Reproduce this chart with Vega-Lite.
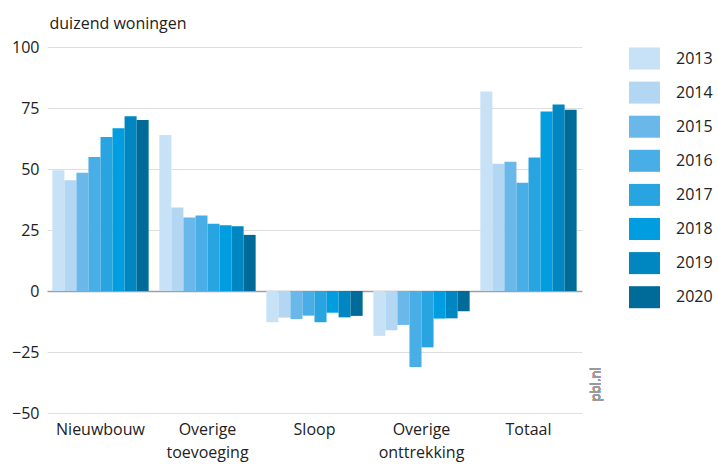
{
  "$schema": "https://vega.github.io/schema/vega-lite/v6.json",
  "width": 535,
  "height": 366,
  "autosize": {"type": "none"},
  "padding": {"left": 47, "top": 47, "right": 136, "bottom": 51},
  "background": "white",
  "config": {
    "font": "Open Sans",
    "view": {"stroke": null},
    "axis": {"labelFont": "Open Sans", "titleFont": "Open Sans", "labelColor": "#222222", "titleColor": "#222222"}
  },
  "data": {
    "values": [
      {"categorie": "Nieuwbouw", "jaar": "2013", "waarde": 49.5},
      {"categorie": "Nieuwbouw", "jaar": "2014", "waarde": 45.4},
      {"categorie": "Nieuwbouw", "jaar": "2015", "waarde": 48.5},
      {"categorie": "Nieuwbouw", "jaar": "2016", "waarde": 54.9},
      {"categorie": "Nieuwbouw", "jaar": "2017", "waarde": 63.1},
      {"categorie": "Nieuwbouw", "jaar": "2018", "waarde": 66.7},
      {"categorie": "Nieuwbouw", "jaar": "2019", "waarde": 71.6},
      {"categorie": "Nieuwbouw", "jaar": "2020", "waarde": 70.1},
      {"categorie": "Overige toevoeging", "jaar": "2013", "waarde": 63.9},
      {"categorie": "Overige toevoeging", "jaar": "2014", "waarde": 34.2},
      {"categorie": "Overige toevoeging", "jaar": "2015", "waarde": 30.1},
      {"categorie": "Overige toevoeging", "jaar": "2016", "waarde": 30.9},
      {"categorie": "Overige toevoeging", "jaar": "2017", "waarde": 27.6},
      {"categorie": "Overige toevoeging", "jaar": "2018", "waarde": 26.9},
      {"categorie": "Overige toevoeging", "jaar": "2019", "waarde": 26.5},
      {"categorie": "Overige toevoeging", "jaar": "2020", "waarde": 23.0},
      {"categorie": "Sloop", "jaar": "2013", "waarde": -12.8},
      {"categorie": "Sloop", "jaar": "2014", "waarde": -10.9},
      {"categorie": "Sloop", "jaar": "2015", "waarde": -11.5},
      {"categorie": "Sloop", "jaar": "2016", "waarde": -10.1},
      {"categorie": "Sloop", "jaar": "2017", "waarde": -12.8},
      {"categorie": "Sloop", "jaar": "2018", "waarde": -8.9},
      {"categorie": "Sloop", "jaar": "2019", "waarde": -10.8},
      {"categorie": "Sloop", "jaar": "2020", "waarde": -10.2},
      {"categorie": "Overige onttrekking", "jaar": "2013", "waarde": -18.4},
      {"categorie": "Overige onttrekking", "jaar": "2014", "waarde": -16.1},
      {"categorie": "Overige onttrekking", "jaar": "2015", "waarde": -13.9},
      {"categorie": "Overige onttrekking", "jaar": "2016", "waarde": -31.1},
      {"categorie": "Overige onttrekking", "jaar": "2017", "waarde": -23.1},
      {"categorie": "Overige onttrekking", "jaar": "2018", "waarde": -11.3},
      {"categorie": "Overige onttrekking", "jaar": "2019", "waarde": -11.2},
      {"categorie": "Overige onttrekking", "jaar": "2020", "waarde": -8.3},
      {"categorie": "Totaal", "jaar": "2013", "waarde": 81.8},
      {"categorie": "Totaal", "jaar": "2014", "waarde": 52.2},
      {"categorie": "Totaal", "jaar": "2015", "waarde": 53.0},
      {"categorie": "Totaal", "jaar": "2016", "waarde": 44.4},
      {"categorie": "Totaal", "jaar": "2017", "waarde": 54.7},
      {"categorie": "Totaal", "jaar": "2018", "waarde": 73.6},
      {"categorie": "Totaal", "jaar": "2019", "waarde": 76.4},
      {"categorie": "Totaal", "jaar": "2020", "waarde": 74.3}
    ]
  },
  "layer": [
    {
      "mark": {"type": "bar"},
      "encoding": {
        "x": {
          "field": "categorie",
          "type": "nominal",
          "sort": null,
          "scale": {"paddingInner": 0.1, "paddingOuter": 0.05},
          "axis": {
            "title": null,
            "labelAngle": 0,
            "ticks": false,
            "domain": false,
            "labelFontSize": 16,
            "labelPadding": 8,
            "labelLineHeight": 23,
            "labelBaseline": "top",
            "labelExpr": "split(datum.label, ' ')"
          }
        },
        "xOffset": {"field": "jaar", "type": "nominal", "scale": {"paddingInner": 0, "paddingOuter": 0}},
        "y": {
          "field": "waarde",
          "type": "quantitative",
          "scale": {"domain": [-50, 100], "nice": false},
          "axis": {
            "values": [-50, -25, 0, 25, 50, 75, 100],
            "title": "duizend woningen",
            "titleAngle": 0,
            "titleAlign": "left",
            "titleBaseline": "alphabetic",
            "titleX": 2,
            "titleY": -19,
            "titleFontSize": 16,
            "titleFontWeight": "normal",
            "labelFontSize": 16,
            "labelPadding": 8,
            "ticks": false,
            "domain": false,
            "grid": true,
            "gridColor": {"condition": {"test": "datum.value === 0", "value": "#a0a0a0"}, "value": "#dedede"},
            "gridWidth": {"condition": {"test": "datum.value === 0", "value": 1.5}, "value": 1}
          }
        },
        "color": {
          "field": "jaar",
          "type": "nominal",
          "scale": {
            "domain": ["2013", "2014", "2015", "2016", "2017", "2018", "2019", "2020"],
            "range": ["#c7e2f7", "#b3d7f3", "#6ab8ea", "#4aaee6", "#28a5e1", "#009ee0", "#0086c0", "#006b98"]
          },
          "legend": {
            "title": null,
            "orient": "none",
            "legendX": 582,
            "legendY": -4,
            "padding": 0,
            "symbolType": "M-1,-0.71H1V0.71H-1Z",
            "symbolSize": 961,
            "symbolStrokeWidth": 0,
            "labelFontSize": 16,
            "labelFont": "Open Sans",
            "labelColor": "#222222",
            "labelOffset": 16,
            "rowPadding": 7.1
          }
        }
      }
    },
    {
      "mark": {"type": "text", "angle": 270, "fontSize": 13, "color": "#9a9a9a", "font": "Open Sans", "align": "center", "baseline": "middle", "dx": -3, "dy": 19},
      "encoding": {
        "x": {"datum": "Totaal", "type": "nominal", "bandPosition": 1},
        "y": {"datum": -37, "type": "quantitative"},
        "text": {"value": "pbl.nl"}
      }
    }
  ]
}
